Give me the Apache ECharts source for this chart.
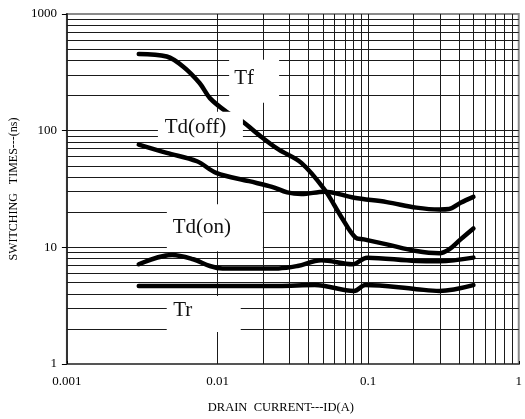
<!DOCTYPE html>
<html>
<head>
<meta charset="utf-8">
<script src="https://cdn.jsdelivr.net/npm/echarts@6/dist/echarts.min.js"></script>
<style>
  html, body { margin: 0; padding: 0; background: #fff; }
  #chart { width: 525px; height: 419px; }
</style>
</head>
<body>
<div id="chart"></div>
<script>
// curves: [drain current (A), switching time (ns)]
const tf = [
  [0.003, 455], [0.0046, 432], [0.0059, 355], [0.0076, 256], [0.0089, 190],
  [0.0114, 146], [0.0146, 120], [0.0188, 92], [0.0254, 69], [0.036, 53],
  [0.0513, 31.3], [0.0659, 18.5], [0.0826, 12.1], [0.0937, 11.7], [0.133, 10.6],
  [0.209, 9.3], [0.297, 8.9], [0.345, 9.6], [0.411, 11.7], [0.5, 14.5]
]
const tdOff = [
  [0.003, 76], [0.0046, 64.5], [0.0073, 54.7], [0.0098, 43.5], [0.0162, 36.9],
  [0.023, 33], [0.029, 29.6], [0.036, 28.6], [0.0513, 30], [0.0807, 26.6],
  [0.133, 24.4], [0.209, 21.9], [0.297, 21.1], [0.345, 21.3], [0.411, 24.1], [0.5, 27.1]
]
const tdOn = [
  [0.003, 7.16], [0.005, 8.6], [0.0069, 7.9], [0.0089, 6.92], [0.0108, 6.6],
  [0.0254, 6.6], [0.034, 6.92], [0.0488, 7.74], [0.0786, 7.16], [0.0985, 8.16],
  [0.209, 7.64], [0.297, 7.6], [0.5, 8.16]
]
const tr = [
  [0.003, 4.67], [0.0089, 4.67], [0.0254, 4.67], [0.0442, 4.76], [0.0807, 4.23],
  [0.096, 4.76], [0.209, 4.38], [0.297, 4.23], [0.5, 4.74]
]

// curve name tags
const tagText = ['Tf', 'Td(off)', 'Td(on)', 'Tr']
const tagCurrent = [0.0175, 0.0077, 0.0096, 0.0081]
const tagTime = [265, 108, 14.7, 2.68]

// log grid values (the edges are drawn by the axes / border)
const xDecades = [0.001, 0.01, 0.1]
const yDecades = [1, 10, 100]
const steps = [1, 2, 3, 4, 5, 6, 7, 8, 9]

const gridLines = []
xDecades.forEach(d => steps.forEach(s => {
  if (d * s > 0.001) gridLines.push({ xAxis: +(d * s).toPrecision(3) })
}))
yDecades.forEach(d => steps.forEach(s => {
  if (d * s > 1) gridLines.push({ yAxis: d * s })
}))

const font = 'Liberation Serif, Times New Roman, serif'
const boxSize = [[50, 43], [85, 30], [96, 47], [74, 36]]
const textShift = [[-10, -3], [-5, 1], [-13, 0], [-21, -4]]

const chart = echarts.init(document.getElementById('chart'))

const curve = (name, data) => ({
  name: name,
  type: 'line',
  data: data,
  smooth: 0.35,
  showSymbol: false,
  symbol: 'none',
  z: 3,
  lineStyle: { color: '#000', width: 4.5, cap: 'round', join: 'round' },
  animation: false
})

chart.setOption({
  animation: false,
  grid: {
    left: 65, right: 2, top: 14, bottom: 54,
    show: true, borderColor: '#8a8a8a', borderWidth: 2
  },
  xAxis: {
    type: 'log',
    logBase: 10,
    min: 0.001,
    max: 1,
    name: 'DRAIN  CURRENT---ID(A)',
    nameLocation: 'middle',
    nameGap: 37,
    nameTextStyle: { fontFamily: font, fontSize: 12.5, color: '#000', padding: [0, 24, 0, 0] },
    axisLine: { lineStyle: { color: '#555', width: 2 } },
    axisTick: { inside: true, length: 3, lineStyle: { color: '#000' } },
    axisLabel: {
      margin: 11, fontFamily: font, fontSize: 13, color: '#000',
      formatter: v => String(+v.toPrecision(3))
    },
    splitLine: { show: false }
  },
  yAxis: {
    type: 'log',
    logBase: 10,
    min: 1,
    max: 1000,
    name: 'SWITCHING   TIMES---(ns)',
    nameLocation: 'middle',
    nameGap: 45,
    nameTextStyle: { fontFamily: font, fontSize: 12, color: '#000' },
    axisLine: { lineStyle: { color: '#333', width: 2 } },
    axisTick: { length: 5, lineStyle: { color: '#000' } },
    axisLabel: {
      margin: 10, fontFamily: font, fontSize: 13, color: '#000',
      formatter: v => String(Math.round(v))
    },
    splitLine: { show: false }
  },
  series: [
    {
      name: 'grid',
      type: 'line',
      data: [],
      z: 1,
      markLine: {
        z: 1,
        silent: true,
        symbol: 'none',
        animation: false,
        label: { show: false },
        lineStyle: { color: '#1a1a1a', width: 1, type: 'solid' },
        data: gridLines
      }
    },
    curve('Tf', tf),
    curve('Td(off)', tdOff),
    curve('Td(on)', tdOn),
    curve('Tr', tr),
    {
      name: 'tags',
      type: 'scatter',
      z: 5,
      symbol: 'rect',
      animation: false,
      silent: true,
      itemStyle: { color: '#fff', opacity: 1 },
      data: tagText.map((t, i) => ({
        name: t,
        value: [tagCurrent[i], tagTime[i]],
        symbolSize: boxSize[i],
        label: {
          show: true,
          position: 'inside',
          offset: textShift[i],
          formatter: t,
          fontFamily: font,
          fontSize: 21,
          color: '#111'
        }
      }))
    }
  ]
})
</script>
</body>
</html>
